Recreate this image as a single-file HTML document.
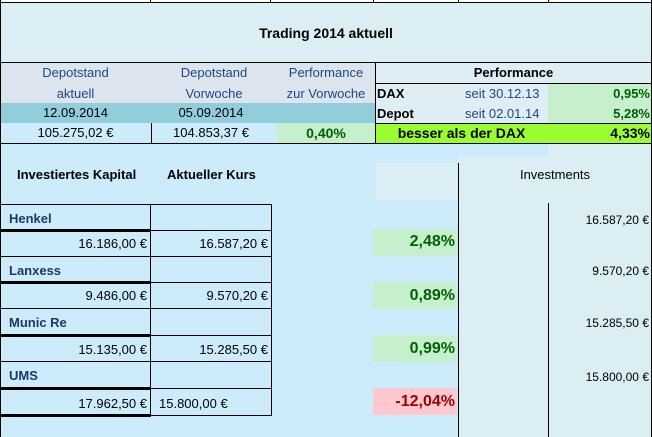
<!DOCTYPE html>
<html><head><meta charset="utf-8"><style>
body{margin:0;width:652px;height:437px;overflow:hidden;background:#daeef3;font-family:"Liberation Sans",sans-serif;font-size:13px;position:relative}
div{position:absolute;box-sizing:border-box}
.t{white-space:nowrap;line-height:16px}
.c{text-align:center}
.r{text-align:right}
.b{font-weight:bold}
.hb{color:#1f497d}
.dk{color:#1f3864}
.gt{color:#006100;font-weight:bold}
.bl{background:#000}
</style></head><body>
<div style="left:0;top:0;width:652px;height:3px;background:#fff"></div>
<div class="bl" style="left:150px;top:0;width:1px;height:3px"></div>
<div class="bl" style="left:270px;top:0;width:1px;height:3px"></div>
<div class="bl" style="left:373px;top:0;width:1px;height:3px"></div>
<div class="bl" style="left:458px;top:0;width:1px;height:3px"></div>
<div class="bl" style="left:548px;top:0;width:1px;height:3px"></div>
<div class="bl" style="left:0;top:2px;width:652px;height:1px"></div>
<div class="t b c" style="left:0;top:25px;width:652px;font-size:14px">Trading 2014 aktuell</div>
<div class="bl" style="left:0;top:62px;width:652px;height:1px"></div>
<div style="left:0;top:63px;width:375px;height:40px;background:#dce4ee"></div>
<div style="left:0;top:103px;width:375px;height:20px;background:#92cddc"></div>
<div style="left:0;top:123px;width:277px;height:20px;background:#ccecfb"></div>
<div style="left:277px;top:123px;width:98px;height:20px;background:#c6efce"></div>
<div class="t c hb" style="left:0;top:65px;width:151px">Depotstand</div>
<div class="t c hb" style="left:0;top:86px;width:151px">aktuell</div>
<div class="t c hb" style="left:151px;top:65px;width:126px">Depotstand</div>
<div class="t c hb" style="left:151px;top:86px;width:126px">Vorwoche</div>
<div class="t c hb" style="left:277px;top:65px;width:98px">Performance</div>
<div class="t c hb" style="left:277px;top:86px;width:98px">zur Vorwoche</div>
<div class="t c" style="left:0;top:105px;width:151px">12.09.2014</div>
<div class="t c" style="left:151px;top:105px;width:120px">05.09.2014</div>
<div class="t c" style="left:0;top:125px;width:151px">105.275,02 €</div>
<div class="t c" style="left:151px;top:125px;width:120px">104.853,37 €</div>
<div class="t c gt" style="left:277px;top:125px;width:98px;font-size:14px">0,40%</div>
<div class="bl" style="left:151px;top:123px;width:1px;height:20px"></div>
<div style="left:375px;top:63px;width:277px;height:60px;background:#dfeef4"></div>
<div style="left:548px;top:83px;width:104px;height:40px;background:#c6efce"></div>
<div class="bl" style="left:375px;top:83px;width:277px;height:1px"></div>
<div class="t b c" style="left:375px;top:65px;width:277px">Performance</div>
<div class="t b" style="left:377px;top:86px">DAX</div>
<div class="t hb" style="left:465px;top:86px">seit 30.12.13</div>
<div class="t gt r" style="left:548px;top:86px;width:102px">0,95%</div>
<div class="t b" style="left:377px;top:106px">Depot</div>
<div class="t hb" style="left:465px;top:106px">seit 02.01.14</div>
<div class="t gt r" style="left:548px;top:106px;width:102px">5,28%</div>
<div style="left:375px;top:123px;width:277px;height:20px;background:#99ff33"></div>
<div class="bl" style="left:375px;top:123px;width:277px;height:1px"></div>
<div class="t b c" style="left:375px;top:125px;width:173px;font-size:14px">besser als der DAX</div>
<div class="t b r" style="left:548px;top:125px;width:102px;font-size:14px">4,33%</div>
<div class="bl" style="left:375px;top:62px;width:1px;height:82px"></div>
<div class="bl" style="left:0;top:143px;width:652px;height:1px"></div>
<div style="left:0;top:144px;width:458px;height:293px;background:#ccecfb"></div>
<div style="left:458px;top:144px;width:90px;height:12px;background:#ccecfb"></div>
<div style="left:375px;top:163px;width:83px;height:37px;background:#daeef3"></div>
<div class="bl" style="left:458px;top:163px;width:1px;height:274px"></div>
<div class="bl" style="left:548px;top:203px;width:1px;height:234px"></div>
<div class="t b" style="left:17px;top:167px">Investiertes Kapital</div>
<div class="t b" style="left:167px;top:167px">Aktueller Kurs</div>
<div class="t c" style="left:458px;top:167px;width:194px">Investments</div>
<div style="left:0;top:204px;width:272px;height:212px;border:1px solid #000;border-left:none"></div>
<div class="bl" style="left:150px;top:204px;width:1px;height:212px"></div>
<div class="bl" style="left:0;top:229px;width:151px;height:3px"></div>
<div class="bl" style="left:151px;top:230px;width:121px;height:1px"></div>
<div class="bl" style="left:0;top:256px;width:272px;height:1px"></div>
<div class="bl" style="left:0;top:281px;width:151px;height:3px"></div>
<div class="bl" style="left:151px;top:282px;width:121px;height:1px"></div>
<div class="bl" style="left:0;top:308px;width:272px;height:1px"></div>
<div class="bl" style="left:0;top:334px;width:151px;height:3px"></div>
<div class="bl" style="left:151px;top:335px;width:121px;height:1px"></div>
<div class="bl" style="left:0;top:361px;width:272px;height:1px"></div>
<div class="bl" style="left:0;top:387px;width:151px;height:3px"></div>
<div class="bl" style="left:151px;top:388px;width:121px;height:1px"></div>
<div class="bl" style="left:0;top:414px;width:151px;height:3px"></div>
<div class="t b dk" style="left:9px;top:211px">Henkel</div>
<div class="t r" style="left:0;top:236px;width:147px">16.186,00 €</div>
<div class="t r" style="left:151px;top:236px;width:117px">16.587,20 €</div>
<div class="t b dk" style="left:9px;top:263px">Lanxess</div>
<div class="t r" style="left:0;top:288px;width:147px">9.486,00 €</div>
<div class="t r" style="left:151px;top:288px;width:117px">9.570,20 €</div>
<div class="t b dk" style="left:9px;top:315px">Munic Re</div>
<div class="t r" style="left:0;top:342px;width:147px">15.135,00 €</div>
<div class="t r" style="left:151px;top:342px;width:117px">15.285,50 €</div>
<div class="t b dk" style="left:9px;top:368px">UMS</div>
<div class="t r" style="left:0;top:396px;width:147px">17.962,50 €</div>
<div class="t" style="left:159px;top:396px">15.800,00 €</div>
<div style="left:373px;top:229px;width:84px;height:27px;background:#c6efce"></div>
<div class="t gt r" style="left:373px;top:234px;width:82px;font-size:16px">2,48%</div>
<div style="left:373px;top:282px;width:84px;height:27px;background:#c6efce"></div>
<div class="t gt r" style="left:373px;top:288px;width:82px;font-size:16px">0,89%</div>
<div style="left:373px;top:335px;width:84px;height:27px;background:#c6efce"></div>
<div class="t gt r" style="left:373px;top:341px;width:82px;font-size:16px">0,99%</div>
<div style="left:373px;top:388px;width:84px;height:27px;background:#ffc7ce"></div>
<div class="t b r" style="left:373px;top:394px;width:82px;font-size:16px;color:#9c0006">-12,04%</div>
<div class="t r" style="left:548px;top:212px;width:101px;font-size:12px">16.587,20 €</div>
<div class="t r" style="left:548px;top:263px;width:101px;font-size:12px">9.570,20 €</div>
<div class="t r" style="left:548px;top:315px;width:101px;font-size:12px">15.285,50 €</div>
<div class="t r" style="left:548px;top:369px;width:101px;font-size:12px">15.800,00 €</div>
<div class="bl" style="left:0;top:0;width:1px;height:437px"></div>
<div class="bl" style="left:651px;top:0;width:1px;height:437px"></div>
</body></html>
